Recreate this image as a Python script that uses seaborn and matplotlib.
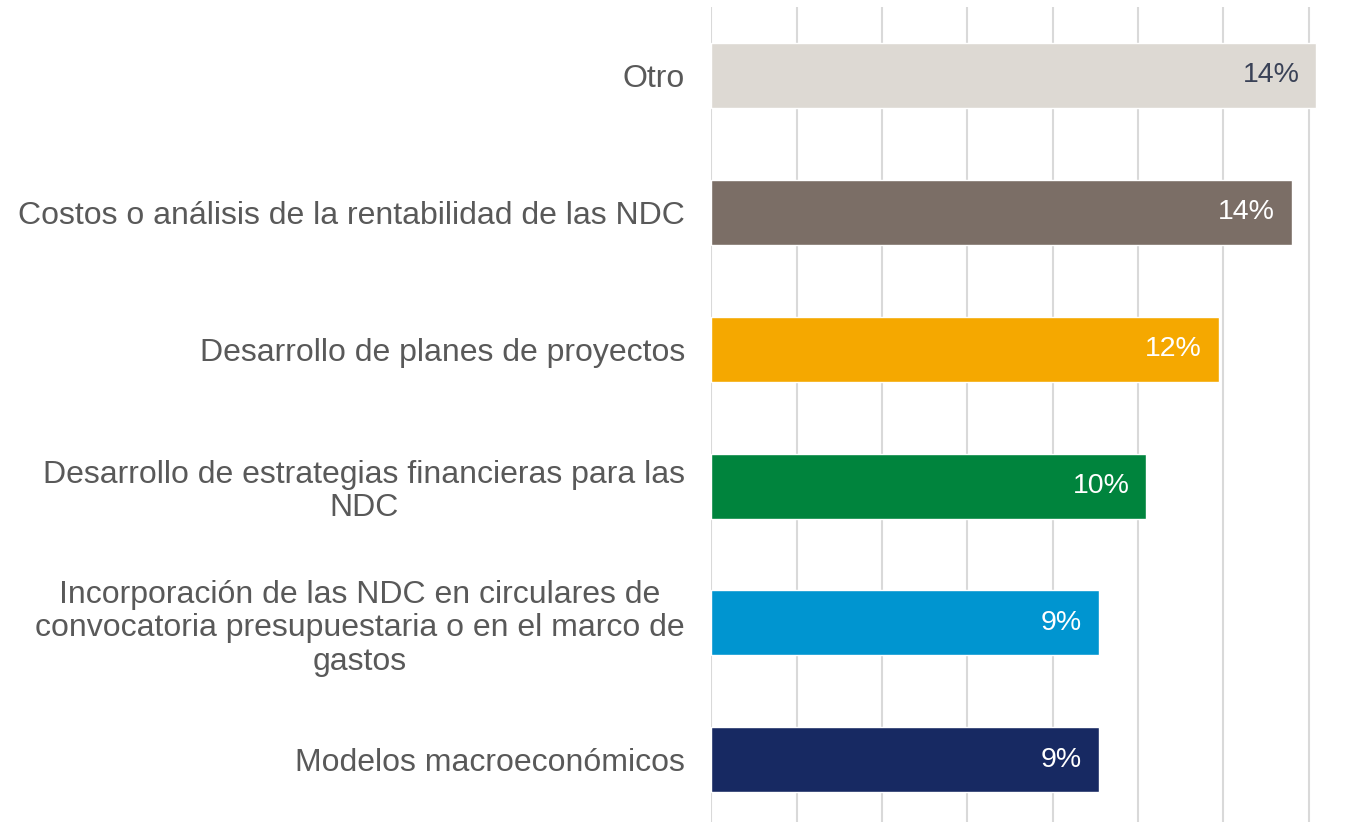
import matplotlib
matplotlib.use("Agg")
import matplotlib.pyplot as plt
import seaborn as sns
import pandas as pd

# datos del gráfico (de arriba hacia abajo)
categorias = [
    "Otro",
    "Costos o análisis de la rentabilidad de las NDC",
    "Desarrollo de planes de proyectos",
    "Desarrollo de estrategias financieras para las\nNDC",
    "Incorporación de las NDC en circulares de\nconvocatoria presupuestaria o en el marco de\ngastos",
    "Modelos macroeconómicos",
]
valores = [0.1417, 0.136, 0.1189, 0.1019, 0.0908, 0.0908]
etiquetas = ["14%", "14%", "12%", "10%", "9%", "9%"]
colores = ["#DDD9D3", "#7B6E66", "#F5A800", "#00843D", "#0095D0", "#172962"]
color_texto = ["#3A4257", "white", "white", "white", "white", "white"]

df = pd.DataFrame({"categoria": categorias, "valor": valores})

sns.set_theme(style="white")
plt.rcParams["font.family"] = ["Liberation Sans", "DejaVu Sans"]

fig = plt.figure(figsize=(13.65, 8.22), dpi=100)
ax = fig.add_axes([0.521, -0.0075, 0.469, 0.999])

sns.barplot(data=df, y="categoria", x="valor", hue="categoria",
            palette=colores, orient="h", width=0.475, legend=False,
            saturation=1, ax=ax)

ax.set_xlim(0, 0.15)
ax.set_ylim(5.5, -0.5)
ax.set_xticks([i * 0.02 for i in range(8)])
ax.xaxis.grid(True, color="#D9D9D9", linewidth=1.5)
ax.set_axisbelow(True)
ax.tick_params(axis="x", length=0, labelbottom=False)
ax.tick_params(axis="y", length=0, pad=19)
ax.set_xlabel("")
ax.set_ylabel("")
for s in ax.spines.values():
    s.set_visible(False)

for lbl in ax.get_yticklabels():
    lbl.set_fontsize(23)
    lbl.set_color("#595959")
    lbl.set_multialignment("center")
    lbl.set_linespacing(1.15)

for i, (v, t, c) in enumerate(zip(valores, etiquetas, color_texto)):
    ax.annotate(t, (v, i), xytext=(-12, 0), textcoords="offset points",
                ha="right", va="center", fontsize=20.5, color=c)

fig.savefig("out.png", dpi=100)
